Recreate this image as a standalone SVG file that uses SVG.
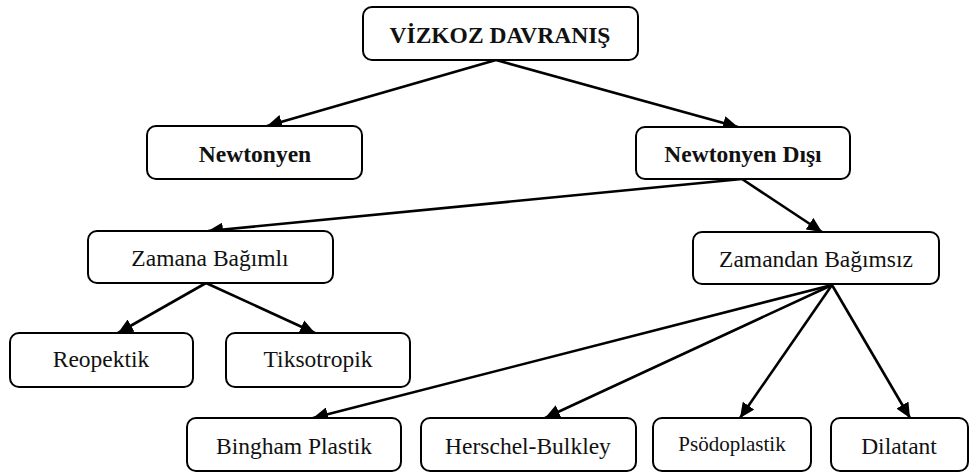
<svg xmlns="http://www.w3.org/2000/svg" width="978" height="472" viewBox="0 0 978 472">
<style>
.box{fill:#fff;stroke:#000;stroke-width:2}
.t{font-family:"Liberation Serif","Times New Roman",serif;font-size:23.5px;fill:#111;text-anchor:middle}
.b{font-weight:bold}
.c{stroke:#000;stroke-width:2.6;fill:none;marker-end:url(#ah)}
</style>
<defs>
<marker id="ah" markerUnits="userSpaceOnUse" markerWidth="16" markerHeight="14" refX="15" refY="7" orient="auto">
<path d="M0,0 L15,7 L0,14 z" fill="#000"/>
</marker>
</defs>
<rect width="978" height="472" fill="#fff"/>
<g id="connectors">
<line class="c" x1="496" y1="60" x2="267" y2="126"/>
<line class="c" x1="496" y1="60" x2="738" y2="127"/>
<line class="c" x1="742" y1="179" x2="208" y2="231"/>
<line class="c" x1="742" y1="179" x2="822" y2="232"/>
<line class="c" x1="206" y1="283" x2="118" y2="333"/>
<line class="c" x1="206" y1="283" x2="315" y2="333"/>
<line class="c" x1="832" y1="285" x2="313" y2="418"/>
<line class="c" x1="832" y1="285" x2="545" y2="418"/>
<line class="c" x1="832" y1="285" x2="740" y2="418"/>
<line class="c" x1="832" y1="285" x2="910" y2="418"/>
</g>
<g id="vizkoz"><rect class="box" x="363" y="7" width="275" height="53" rx="9"/><text class="t b" x="500" y="43">VİZKOZ DAVRANIŞ</text></g>
<g id="newtonyen"><rect class="box" x="147" y="126" width="215" height="53" rx="9"/><text class="t b" x="255" y="162">Newtonyen</text></g>
<g id="newtonyen-disi"><rect class="box" x="636" y="127" width="214" height="52" rx="9"/><text class="t b" x="743" y="162">Newtonyen Dışı</text></g>
<g id="zamana"><rect class="box" x="88" y="231" width="245" height="52" rx="9"/><text class="t" x="210" y="266">Zamana Bağımlı</text></g>
<g id="zamandan"><rect class="box" x="693" y="232" width="246" height="52" rx="9"/><text class="t" x="816" y="267">Zamandan Bağımsız</text></g>
<g id="reopektik"><rect class="box" x="10" y="333" width="183" height="54" rx="9"/><text class="t" x="101" y="367">Reopektik</text></g>
<g id="tiksotropik"><rect class="box" x="226" y="333" width="184" height="54" rx="9"/><text class="t" x="318" y="367">Tiksotropik</text></g>
<g id="bingham"><rect class="box" x="187" y="418" width="214" height="53" rx="9"/><text class="t" x="294" y="454">Bingham Plastik</text></g>
<g id="herschel"><rect class="box" x="421" y="418" width="215" height="53" rx="9"/><text class="t" x="528" y="454">Herschel-Bulkley</text></g>
<g id="psodoplastik"><rect class="box" x="653" y="418" width="158" height="53" rx="9"/><text class="t" x="732" y="451" style="font-size:21px">Psödoplastik</text></g>
<g id="dilatant"><rect class="box" x="831" y="418" width="137" height="53" rx="9"/><text class="t" x="899" y="454">Dilatant</text></g>
</svg>
